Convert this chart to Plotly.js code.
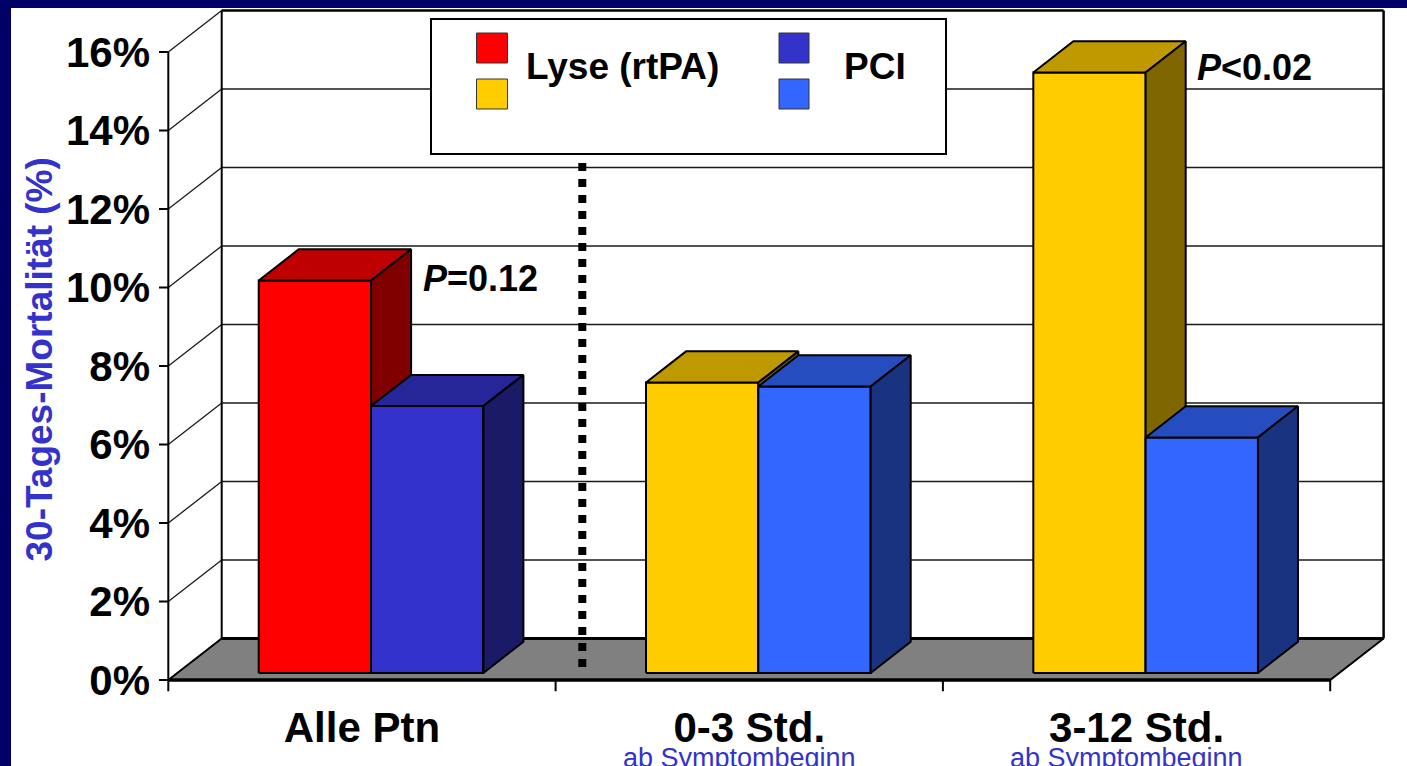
<!DOCTYPE html>
<html>
<head>
<meta charset="utf-8">
<script src="https://cdn.plot.ly/plotly-3.0.1.min.js"></script>
<style>
  html, body { margin: 0; padding: 0; background: #000066; }
  #chart { width: 1407px; height: 766px; }
</style>
</head>
<body>
<div id="chart"></div>
<script>
// 30-day mortality, thrombolysis vs. primary PCI, by time from symptom onset
const categories = ['Alle Ptn', '0-3 Std.', '3-12 Std.'];
const subLabels = ['', 'ab Symptombeginn', 'ab Symptombeginn'];
const lyseValues = [10.0, 7.4, 15.3];
const pciValues = [6.8, 7.3, 6.0];
const lyseColors = ['#FF0000', '#FFCC00', '#FFCC00'];
const pciColors = ['#3333CC', '#3366FF', '#3366FF'];
const pValueLabels = ['<i>P</i>=0.12', '', '<i>P</i>&lt;0.02'];
const yTickValues = [0, 2, 4, 6, 8, 10, 12, 14, 16];
const yTickLabels = ['0%', '2%', '4%', '6%', '8%', '10%', '12%', '14%', '16%'];
const legendNames = ['Lyse (rtPA)', 'PCI'];
const axisTitle = '30-Tages-Mortalität (%)';

// ---- page / projection geometry ----
const W = 1407, H = 766;
const M = { l: 159, r: 22, t: 9, b: 74 };
const plotW = W - M.l - M.r, plotH = H - M.t - M.b;
const CAT_PX = 387.3;          // pixels per category
const PCT_PX = 39.25;          // pixels per percentage point
const DX = 53.4 / CAT_PX;      // oblique depth offset, x units
const DY = 41.5 / PCT_PX;      // oblique depth offset, y units
const D0 = 0.17, D1 = 0.92;    // bar depth span (0 = front plane, 1 = back wall)
const BAR_W = 0.29;
const xMin = -0.5 - 9.3 / CAT_PX, xMax = xMin + plotW / CAT_PX;
const yMin = -12 / PCT_PX, yMax = yMin + plotH / PCT_PX;
const yTop = yTickValues[yTickValues.length - 1];
const xL = -0.5, xR = categories.length - 0.5;

const pxX = px => (px - M.l) / plotW;
const pxY = py => (H - M.b - py) / plotH;

function shade(hex, f) {
  const n = parseInt(hex.slice(1), 16);
  const r = Math.round(((n >> 16) & 255) * f);
  const g = Math.round(((n >> 8) & 255) * f);
  const b = Math.round((n & 255) * f);
  return 'rgb(' + r + ',' + g + ',' + b + ')';
}
const proj = (x, y, d) => [x + d * DX, y + d * DY];

function segs(list, width, color, dash) {
  const xs = [], ys = [];
  list.forEach(s => { xs.push(s[0][0], s[1][0], null); ys.push(s[0][1], s[1][1], null); });
  return { type: 'scatter', mode: 'lines', x: xs, y: ys,
    line: { color: color || '#000', width: width, dash: dash || 'solid' },
    hoverinfo: 'skip', showlegend: false };
}
function poly(pts, fill, lw) {
  const xs = pts.map(p => p[0]), ys = pts.map(p => p[1]);
  xs.push(pts[0][0]); ys.push(pts[0][1]);
  return { type: 'scatter', mode: 'lines', x: xs, y: ys, fill: 'toself',
    fillcolor: fill, line: { color: '#000', width: lw === undefined ? 2 : lw },
    hoverinfo: 'skip', showlegend: false };
}

const traces = [];

// back wall grid and side-wall diagonals
traces.push(segs(yTickValues.filter(t => t > 0 && t < yTop)
  .map(t => [proj(xL, t, 1), proj(xR, t, 1)]), 1.3, '#1a1a1a'));
traces.push(segs(yTickValues.filter(t => t > 0)
  .map(t => [proj(xL, t, 0), proj(xL, t, 1)]), 1.3, '#1a1a1a'));
traces.push(segs([[proj(xL, 0, 1), proj(xL, yTop, 1)]], 2));
traces.push(segs([[proj(xR, 0, 1), proj(xR, yTop, 1)], [proj(xL, yTop, 1), proj(xR, yTop, 1)]], 2.5));

// floor
traces.push(poly([proj(xL, 0, 0), proj(xR, 0, 0), proj(xR, 0, 1), proj(xL, 0, 1)], '#808080', 2));
traces.push(segs([[proj(xL, 0, 0), proj(xR, 0, 0)]], 3.5));
traces.push(segs([[proj(xL, 0, 1), proj(xR, 0, 1)]], 3));

// 3-D columns: front, top and right side faces
function column(xl, v, color) {
  const xr = xl + BAR_W;
  traces.push(poly([proj(xl, 0, D0), proj(xr, 0, D0), proj(xr, v, D0), proj(xl, v, D0)], color));
  traces.push(poly([proj(xl, v, D0), proj(xr, v, D0), proj(xr, v, D1), proj(xl, v, D1)], shade(color, 0.75)));
  traces.push(poly([proj(xr, 0, D0), proj(xr, 0, D1), proj(xr, v, D1), proj(xr, v, D0)], shade(color, 0.5)));
}
categories.forEach((c, i) => {
  column(i - BAR_W, lyseValues[i], lyseColors[i]);
  column(i, pciValues[i], pciColors[i]);
});

// dotted separator between overall result and time subgroups
const xSep = 0.5 + 0.5 * DX;
traces.push(segs([[[xSep, (680 - 163) / PCT_PX], [xSep, (680 - 668) / PCT_PX]]], 8, '#000', 'dot'));

// front value axis with ticks
traces.push(segs([[[xL, 0], [xL, yTop]]], 2));
traces.push(segs(yTickValues.map(t => [[xMin, t], [xL, t]]), 2));
// category separator ticks
const sepTicks = [];
for (let k = 0; k <= categories.length; k++) sepTicks.push([[k - 0.5, 0], [k - 0.5, yMin + 0.02]]);
traces.push(segs(sepTicks, 2));

const FONT = 'Liberation Sans, Arial, Helvetica, sans-serif';
const annotations = [];
annotations.push({ xref: 'paper', yref: 'paper', x: pxX(38.5), y: pxY(360), text: axisTitle,
  textangle: -90, showarrow: false, xanchor: 'center', yanchor: 'middle',
  font: { family: FONT, size: 37, weight: 'bold', color: '#3333CC' } });
categories.forEach((c, i) => {
  if (subLabels[i]) annotations.push({ xref: 'x', yref: 'paper', x: i, xshift: -10, y: pxY(741),
    text: subLabels[i], showarrow: false, xanchor: 'center', yanchor: 'top',
    font: { family: FONT, size: 27, color: '#3333CC' } });
  if (pValueLabels[i]) annotations.push({ xref: 'x', yref: 'y', x: i + 0.152,
    y: i === 0 ? 10.24 : 15.6, text: pValueLabels[i], showarrow: false,
    xanchor: 'left', yanchor: 'middle',
    font: { family: FONT, size: 36, weight: 'bold', color: '#000' } });
});
annotations.push({ xref: 'paper', yref: 'paper', x: pxX(524), y: pxY(67), text: legendNames[0],
  showarrow: false, xanchor: 'left', yanchor: 'middle',
  font: { family: FONT, size: 37, weight: 'bold', color: '#000' } });
annotations.push({ xref: 'paper', yref: 'paper', x: pxX(842), y: pxY(67), text: legendNames[1],
  showarrow: false, xanchor: 'left', yanchor: 'middle',
  font: { family: FONT, size: 37, weight: 'bold', color: '#000' } });

// legend frame and colour keys
const rect = (x0, y0, x1, y1, fill, lc, lw, layer) => ({ type: 'rect', xref: 'paper', yref: 'paper',
  x0: pxX(x0), x1: pxX(x1), y0: pxY(y1), y1: pxY(y0), fillcolor: fill,
  line: { color: lc, width: lw }, layer: layer || 'above' });
const shapes = [
  rect(11, 8, W + 5, H + 5, '#FFFFFF', '#FFFFFF', 0, 'below'),
  rect(431, 19, 946, 154, '#FFFFFF', '#000', 2),
  rect(476.5, 33, 507.5, 63, lyseColors[0], '#333', 1),
  rect(476.5, 79, 507.5, 109, lyseColors[1], '#333', 1),
  rect(779, 33, 809, 63, pciColors[0], '#333', 1),
  rect(779, 79, 809, 109, pciColors[1], '#333', 1)
];

const layout = {
  width: W, height: H, margin: M,
  paper_bgcolor: '#000066', plot_bgcolor: '#FFFFFF',
  showlegend: false,
  xaxis: { range: [xMin, xMax], tickvals: categories.map((c, i) => i), ticktext: categories,
    ticks: '', showline: false, showgrid: false, zeroline: false, ticklabelstandoff: 7,
    tickfont: { family: FONT, size: 42, weight: 'bold', color: '#000' }, fixedrange: true },
  yaxis: { range: [yMin, yMax], tickvals: yTickValues, ticktext: yTickLabels,
    ticks: '', showline: false, showgrid: false, zeroline: false, ticklabelstandoff: 8,
    tickfont: { family: FONT, size: 42, weight: 'bold', color: '#000' }, fixedrange: true },
  annotations: annotations,
  shapes: shapes
};

Plotly.newPlot('chart', traces, layout, { displayModeBar: false, staticPlot: true });
</script>
</body>
</html>
